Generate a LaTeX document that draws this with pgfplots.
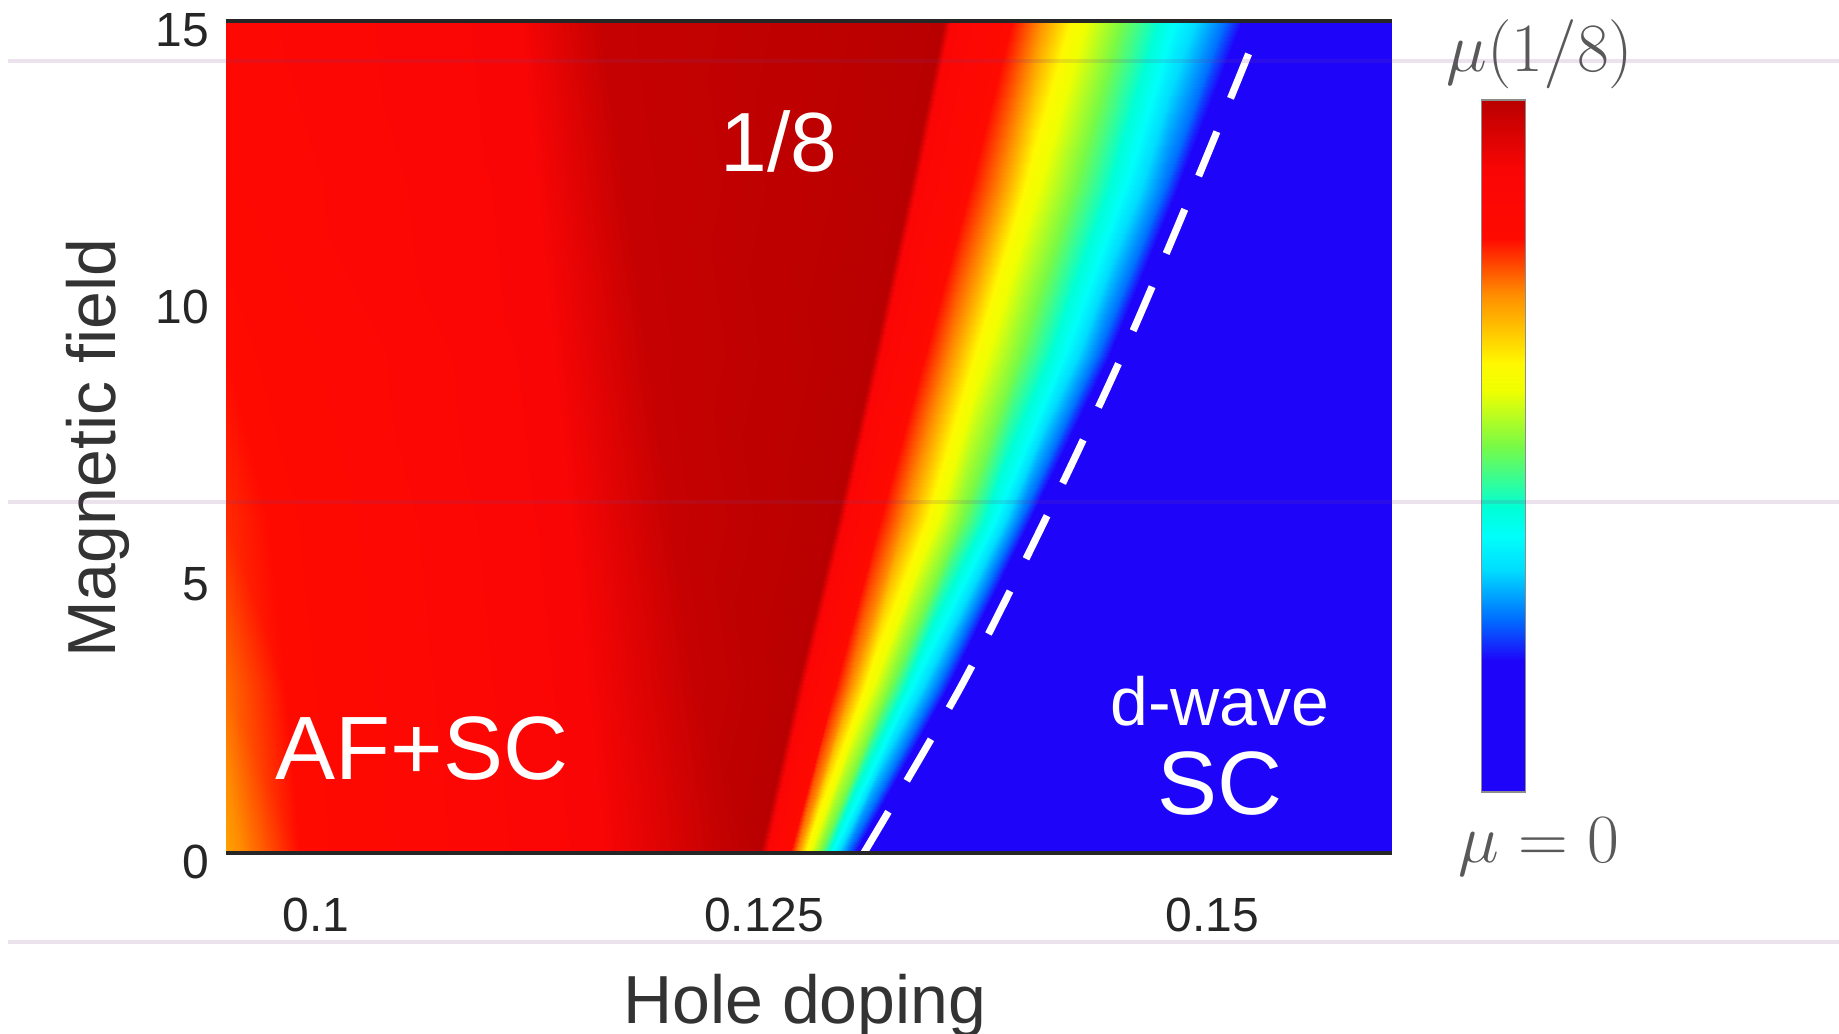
\documentclass[border=0pt]{standalone}
\usepackage[no-math]{fontspec}
\setmainfont{Liberation Sans}
\usepackage{pgfplots}
\pgfplotsset{compat=1.18}
\pgfplotsset{colormap={mu}{rgb255(0cm)=(30,5,250) rgb255(19cm)=(30,5,250) rgb255(25cm)=(0,110,255) rgb255(32cm)=(0,220,255) rgb255(37cm)=(0,255,250) rgb255(41cm)=(0,255,215) rgb255(50cm)=(120,250,70) rgb255(58cm)=(240,255,0) rgb255(62cm)=(255,248,0) rgb255(72cm)=(255,140,0) rgb255(80cm)=(255,10,0) rgb255(90cm)=(250,5,5) rgb255(100cm)=(185,0,0)}}
\definecolor{artline}{RGB}{120,60,140}
\begin{document}
\begin{tikzpicture}
\useasboundingbox (0,0) rectangle (459.75pt,258.5pt);
\begin{axis}[
  at={(56.5pt,45.25pt)}, anchor=south west,
  width=291.5pt, height=208pt, scale only axis,
  xmin=0.095, xmax=0.16, ymin=0, ymax=15,
  enlargelimits=false,
  colormap name=mu, point meta min=0, point meta max=1,
  xtick={0.1,0.125,0.15}, xticklabels={0.1,0.125,0.15},
  ytick={0,5,10,15},
  major tick length=0pt,
  tick label style={font=\fontsize{12}{14}\selectfont, text=black!85},
  xticklabel style={anchor=center, yshift=-15.5pt},
  yticklabel style={anchor=east, inner sep=0pt, xshift=-4pt, yshift=-2.25pt},
  /pgf/number format/assume math mode=true,
  separate axis lines,
  x axis line style={black!85, line width=1.1pt},
  y axis line style={draw=none},
  axis on top,
  colorbar,
  colorbar style={
    at={(parent axis.south east)}, anchor=south west,
    xshift=13.8pt, yshift=15.25pt,
    width=11pt, height=173pt,
    ytick=\empty, xtick=\empty,
    axis line style={black!45, line width=0.4pt},
  },
]
\addplot[surf, shader=interp, mesh/cols=14, point meta=explicit] table[x=x, y=y, meta=v] {
x y v
0.09500 0 0.70
0.09913 0 0.80
0.11585 0 0.90
0.12237 0 0.98
0.12477 0 1.00
0.12522 0 0.88
0.12644 0 0.80
0.12683 0 0.72
0.12739 0 0.60
0.12811 0 0.50
0.12878 0 0.37
0.12962 0 0.25
0.13006 0 0.19
0.16000 0 0.00

0.09500 3 0.74
0.09829 3 0.80
0.11490 3 0.90
0.12109 3 0.98
0.12683 3 1.00
0.12728 3 0.88
0.12895 3 0.80
0.12978 3 0.72
0.13079 3 0.60
0.13201 3 0.50
0.13324 3 0.37
0.13469 3 0.25
0.13525 3 0.19
0.16000 3 0.00

0.09500 6 0.78
0.09734 6 0.80
0.11401 6 0.90
0.11975 6 0.98
0.12906 6 1.00
0.12951 6 0.88
0.13146 6 0.80
0.13274 6 0.72
0.13435 6 0.60
0.13603 6 0.50
0.13787 6 0.37
0.13926 6 0.25
0.13982 6 0.19
0.16000 6 0.00

0.09500 9 0.80
0.09662 9 0.81
0.11306 9 0.90
0.11847 9 0.98
0.13112 9 1.00
0.13157 9 0.88
0.13396 9 0.80
0.13536 9 0.72
0.13703 9 0.60
0.13926 9 0.50
0.14177 9 0.37
0.14361 9 0.25
0.14428 9 0.19
0.16000 9 0.00

0.09500 12 0.82
0.09578 12 0.83
0.11217 12 0.90
0.11713 12 0.98
0.13313 12 1.00
0.13358 12 0.88
0.13647 12 0.80
0.13814 12 0.72
0.13982 12 0.60
0.14232 12 0.50
0.14511 12 0.37
0.14734 12 0.25
0.14807 12 0.19
0.16000 12 0.00

0.09500 15 0.83
0.09533 15 0.84
0.11122 15 0.90
0.11585 15 0.98
0.13502 15 1.00
0.13547 15 0.88
0.13881 15 0.80
0.14037 15 0.72
0.14244 15 0.60
0.14494 15 0.50
0.14790 15 0.37
0.15069 15 0.25
0.15163 15 0.19
0.16000 15 0.00
};
\addplot[white, line width=1.8pt, dash pattern=on 12pt off 9pt, smooth] coordinates {
(0.13056,0) (0.13597,3) (0.14065,6) (0.14500,9) (0.14896,12) (0.15275,15)};
\node[white, font=\fontsize{21}{24}\selectfont] at (axis cs:0.12582,12.83) {1/8};
\node[white, font=\fontsize{22.5}{26}\selectfont] at (axis cs:0.10593,1.88) {AF+SC};
\node[white, font=\fontsize{17}{20}\selectfont] at (axis cs:0.15041,2.73) {d-wave};
\node[white, font=\fontsize{22.5}{26}\selectfont] at (axis cs:0.15041,1.25) {SC};
\end{axis}
\node[anchor=base, font=\fontsize{17}{20}\selectfont, text=black!80] at (201.25pt,2.7pt) {Hole doping};
\node[anchor=base, rotate=90, font=\fontsize{17}{20}\selectfont, text=black!80] at (28.8pt,146.5pt) {Magnetic field};
\node[font=\fontsize{17}{20}\selectfont, text=black!65] at (385pt,245pt) {$\mu(1/8)$};
\node[anchor=base, font=\fontsize{17}{20}\selectfont, text=black!65] at (384.75pt,42.75pt) {$\mu = 0$};
\draw[artline, opacity=0.15, line width=0.8pt] (2pt,243.25pt) -- (459.75pt,243.25pt);
\draw[artline, opacity=0.15, line width=0.8pt] (2pt,133pt) -- (459.75pt,133pt);
\draw[artline, opacity=0.15, line width=0.8pt] (2pt,23pt) -- (459.75pt,23pt);
\end{tikzpicture}
\end{document}
